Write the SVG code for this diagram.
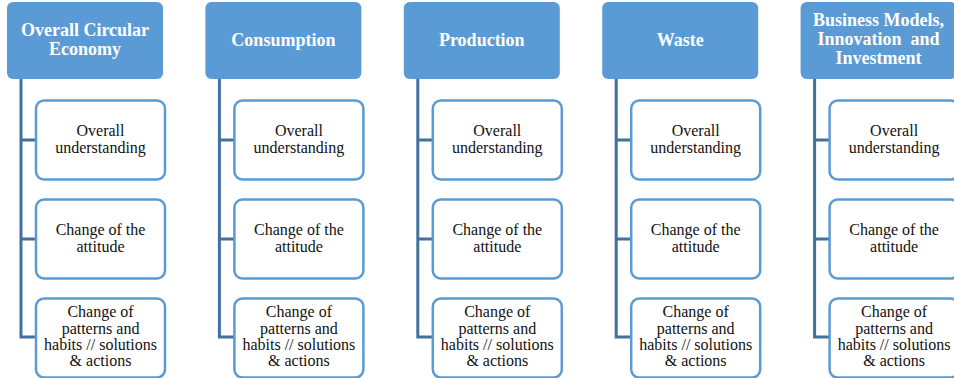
<svg xmlns="http://www.w3.org/2000/svg" width="954" height="378" viewBox="0 0 954 378">
  <style>
    .head-box { fill: #5B9BD5; stroke: none; }
    .head text { fill: #ffffff; font-family: "Liberation Serif", "Times New Roman", serif; font-weight: bold; font-size: 18px; text-anchor: middle; }
    .item-box { fill: #ffffff; stroke: #5B9BD5; stroke-width: 2.5; }
    .item text { fill: #111111; font-family: "Liberation Serif", "Times New Roman", serif; font-size: 16px; text-anchor: middle; }
    .conn path { fill: none; stroke: #41719C; stroke-width: 3; }
    .pre { white-space: pre; }
  </style>
  <defs>
    <rect id="headBox" x="0" y="2" width="156" height="77" rx="6"/>
    <rect id="itemBox" x="29" y="0" width="129" height="79" rx="8"/>
  </defs>

  <!-- connectors: one trunk per column with three branches -->
  <g id="connectors" class="conn">
    <path d="M21 79V337H36M21 140H36M21 239H36"/>
    <path d="M219.4 79V337H234.4M219.4 140H234.4M219.4 239H234.4"/>
    <path d="M417.8 79V337H432.8M417.8 140H432.8M417.8 239H432.8"/>
    <path d="M616.2 79V337H631.2M616.2 140H631.2M616.2 239H631.2"/>
    <path d="M814.6 79V337H829.6M814.6 140H829.6M814.6 239H829.6"/>
  </g>

  <!-- column 1 -->
  <g id="h1" class="head" transform="translate(7,0)">
    <use href="#headBox" class="head-box"/>
    <text x="78" y="36">Overall Circular</text>
    <text x="78" y="55">Economy</text>
  </g>
  <g id="c1a" class="item" transform="translate(7,100.5)">
    <use href="#itemBox" class="item-box"/>
    <text x="93.5" y="35.5">Overall</text>
    <text x="93.5" y="52">understanding</text>
  </g>
  <g id="c1b" class="item" transform="translate(7,199.5)">
    <use href="#itemBox" class="item-box"/>
    <text x="93.5" y="35.5">Change of the</text>
    <text x="93.5" y="52">attitude</text>
  </g>
  <g id="c1c" class="item" transform="translate(7,298.5)">
    <use href="#itemBox" class="item-box"/>
    <text x="93.5" y="18.8">Change of</text>
    <text x="93.5" y="35">patterns and</text>
    <text x="93.5" y="51.5">habits // solutions</text>
    <text x="93.5" y="67">&amp; actions</text>
  </g>

  <!-- column 2 -->
  <g id="h2" class="head" transform="translate(205.4,0)">
    <use href="#headBox" class="head-box"/>
    <text x="78" y="46">Consumption</text>
  </g>
  <g id="c2a" class="item" transform="translate(205.4,100.5)">
    <use href="#itemBox" class="item-box"/>
    <text x="93.5" y="35.5">Overall</text>
    <text x="93.5" y="52">understanding</text>
  </g>
  <g id="c2b" class="item" transform="translate(205.4,199.5)">
    <use href="#itemBox" class="item-box"/>
    <text x="93.5" y="35.5">Change of the</text>
    <text x="93.5" y="52">attitude</text>
  </g>
  <g id="c2c" class="item" transform="translate(205.4,298.5)">
    <use href="#itemBox" class="item-box"/>
    <text x="93.5" y="18.8">Change of</text>
    <text x="93.5" y="35">patterns and</text>
    <text x="93.5" y="51.5">habits // solutions</text>
    <text x="93.5" y="67">&amp; actions</text>
  </g>

  <!-- column 3 -->
  <g id="h3" class="head" transform="translate(403.8,0)">
    <use href="#headBox" class="head-box"/>
    <text x="78" y="46">Production</text>
  </g>
  <g id="c3a" class="item" transform="translate(403.8,100.5)">
    <use href="#itemBox" class="item-box"/>
    <text x="93.5" y="35.5">Overall</text>
    <text x="93.5" y="52">understanding</text>
  </g>
  <g id="c3b" class="item" transform="translate(403.8,199.5)">
    <use href="#itemBox" class="item-box"/>
    <text x="93.5" y="35.5">Change of the</text>
    <text x="93.5" y="52">attitude</text>
  </g>
  <g id="c3c" class="item" transform="translate(403.8,298.5)">
    <use href="#itemBox" class="item-box"/>
    <text x="93.5" y="18.8">Change of</text>
    <text x="93.5" y="35">patterns and</text>
    <text x="93.5" y="51.5">habits // solutions</text>
    <text x="93.5" y="67">&amp; actions</text>
  </g>

  <!-- column 4 -->
  <g id="h4" class="head" transform="translate(602.2,0)">
    <use href="#headBox" class="head-box"/>
    <text x="78" y="46">Waste</text>
  </g>
  <g id="c4a" class="item" transform="translate(602.2,100.5)">
    <use href="#itemBox" class="item-box"/>
    <text x="93.5" y="35.5">Overall</text>
    <text x="93.5" y="52">understanding</text>
  </g>
  <g id="c4b" class="item" transform="translate(602.2,199.5)">
    <use href="#itemBox" class="item-box"/>
    <text x="93.5" y="35.5">Change of the</text>
    <text x="93.5" y="52">attitude</text>
  </g>
  <g id="c4c" class="item" transform="translate(602.2,298.5)">
    <use href="#itemBox" class="item-box"/>
    <text x="93.5" y="18.8">Change of</text>
    <text x="93.5" y="35">patterns and</text>
    <text x="93.5" y="51.5">habits // solutions</text>
    <text x="93.5" y="67">&amp; actions</text>
  </g>

  <!-- column 5 -->
  <g id="h5" class="head" transform="translate(800.6,0)">
    <use href="#headBox" class="head-box"/>
    <text x="78" y="26">Business Models,</text>
    <text x="78" y="45" class="pre">Innovation  and</text>
    <text x="78" y="64">Investment</text>
  </g>
  <g id="c5a" class="item" transform="translate(800.6,100.5)">
    <use href="#itemBox" class="item-box"/>
    <text x="93.5" y="35.5">Overall</text>
    <text x="93.5" y="52">understanding</text>
  </g>
  <g id="c5b" class="item" transform="translate(800.6,199.5)">
    <use href="#itemBox" class="item-box"/>
    <text x="93.5" y="35.5">Change of the</text>
    <text x="93.5" y="52">attitude</text>
  </g>
  <g id="c5c" class="item" transform="translate(800.6,298.5)">
    <use href="#itemBox" class="item-box"/>
    <text x="93.5" y="18.8">Change of</text>
    <text x="93.5" y="35">patterns and</text>
    <text x="93.5" y="51.5">habits // solutions</text>
    <text x="93.5" y="67">&amp; actions</text>
  </g>
</svg>
